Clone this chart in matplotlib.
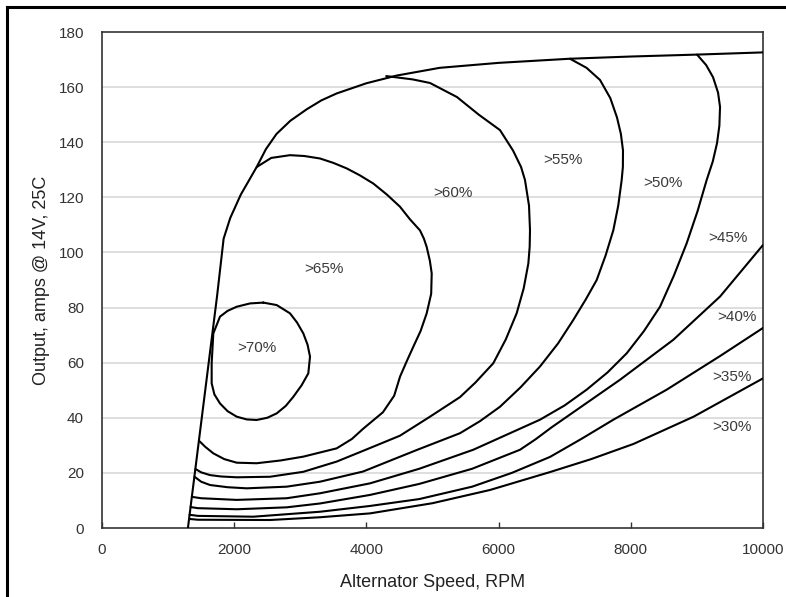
import matplotlib.pyplot as plt
from matplotlib.lines import Line2D

plt.rcParams['font.family'] = ['Liberation Sans', 'DejaVu Sans']

# maximum output line
rpm_max = [1300, 1520, 1740, 1840, 1940, 2100, 2340, 2480, 2640, 2850, 3100, 3320,
           3550, 4000, 4460, 5110, 6000, 7080, 8000, 9000, 10000]
amps_max = [0, 42, 84, 105, 112.5, 121, 131, 137.5, 143, 147.8, 152, 155.2,
            157.7, 161.4, 164.2, 167, 168.8, 170.3, 171.1, 171.8, 172.6]

# efficiency contours
rpm_70 = [2441, 2240, 2038, 1900, 1785, 1684, 1659, 1659, 1700, 1785, 1900, 2038,
          2190, 2340, 2500, 2643, 2780, 2894, 3020, 3121, 3147, 3110, 3046, 2950,
          2844, 2643, 2441]
amps_70 = [81.8, 81.5, 80.3, 78.8, 76.7, 70.6, 59.8, 52.5, 48.5, 45.2, 42.4, 40.4,
           39.4, 39.2, 40.0, 41.6, 44.3, 47.6, 51.8, 56.1, 62.2, 66.5, 70.6, 74.6,
           77.9, 80.9, 81.8]

rpm_65 = [1475, 1560, 1684, 1850, 2038, 2340, 2700, 3046, 3550, 3780, 3950, 4250, 4420,
          4510, 4610, 4710, 4820, 4912, 4980, 4988, 4960, 4912, 4870, 4811, 4660,
          4508, 4310, 4105, 3900, 3702, 3500, 3298, 3060, 2844, 2560, 2340]
amps_65 = [31.5, 29.5, 27.1, 25.0, 23.7, 23.5, 24.5, 25.9, 28.9, 32.3, 36, 42, 48,
           55, 60.5, 65.8, 71.5, 77.9, 85, 92.4, 97, 102, 105, 108, 112,
           116.6, 121, 125, 128, 130.5, 132.5, 134.1, 135, 135.3, 134.3, 131]

rpm_60 = [1415, 1500, 1634, 1800, 2038, 2542, 3046, 3550, 3950, 4508, 4962, 5416,
          5650, 5920, 6110, 6273, 6380, 6450, 6470, 6475, 6460, 6399, 6340, 6218, 6021,
          5700, 5370, 4962, 4700, 4300]
amps_60 = [21.4, 20.2, 19.2, 18.7, 18.4, 18.6, 20.4, 24.1, 28, 33.5, 40.4, 47.5,
           52.8, 59.8, 68.5, 77.9, 87, 96, 102, 108.1, 117, 126.3, 131, 137, 144.4,
           150, 156.4, 161.5, 162.8, 164]

rpm_55 = [1400, 1500, 1634, 1900, 2189, 2794, 3298, 3950, 4761, 5416, 5720, 6021, 6330,
          6626, 6900, 7130, 7320, 7484, 7620, 7736, 7810, 7862, 7880, 7882, 7850,
          7791, 7690, 7534, 7330, 7080]
amps_55 = [18.6, 16.8, 15.6, 14.8, 14.4, 15, 16.8, 20.5, 28.3, 34.4, 38.8, 44, 51,
           58.6, 67, 75.5, 83, 90, 99, 108.1, 117, 126.3, 131, 137, 143,
           149, 156, 162.6, 167, 170.3]

rpm_50 = [1360, 1500, 2038, 2794, 3298, 4054, 4800, 5617, 6626, 7000, 7332, 7650,
          7938, 8200, 8442, 8650, 8845, 9010, 9148, 9240, 9304, 9340, 9350, 9320,
          9244, 9140, 9002]
amps_50 = [11.3, 10.8, 10.2, 10.8, 12.6, 16.2, 21.5, 28.4, 39.3, 44.5, 50.2, 56.5,
           63.4, 71.5, 80.3, 91.5, 103.3, 115, 126.3, 133, 139.6, 146, 152.8, 158,
           163.6, 168, 171.8]

rpm_45 = [1340, 1450, 2038, 2794, 3298, 4054, 4800, 5600, 6324, 6560, 6800, 7837, 8643,
          9350, 10000]
amps_45 = [7.6, 7.2, 6.8, 7.5, 8.9, 12, 16, 21.5, 28.4, 32.2, 36.5, 53.8, 68.3,
           84, 102.7]

rpm_40 = [1325, 1450, 2289, 3298, 4054, 4800, 5600, 6200, 6778, 7250, 7736, 8543,
          9350, 10000]
amps_40 = [4.8, 4.4, 4.1, 5.9, 8, 10.5, 15, 20, 25.8, 32.3, 39.3, 50.2,
           62.4, 72.6]

rpm_35 = [1318, 1450, 2542, 3298, 4054, 5000, 5870, 6778, 7400, 8040, 8950, 10000]
amps_35 = [3.3, 3.0, 2.9, 3.9, 5.3, 9, 13.8, 20.3, 25, 30.5, 40.4, 54.3]

label_text = ['>70%', '>65%', '>60%', '>55%', '>50%', '>45%', '>40%', '>35%', '>30%']
label_rpm = [2340, 3360, 5315, 6979, 8492, 9476, 9601, 9526, 9526]
label_amps = [65.2, 94, 121.4, 133.5, 125.3, 105.1, 76.7, 54.9, 36.8]

x_ticks = [0, 2000, 4000, 6000, 8000, 10000]
y_ticks = [0, 20, 40, 60, 80, 100, 120, 140, 160, 180]

fig = plt.figure(figsize=(7.86, 5.97), dpi=100)
ax = fig.add_axes([102 / 786, 69 / 597, 661 / 786, 496 / 597])

for yv in y_ticks[1:-1]:
    ax.axhline(yv, color='#d4d4d4', linewidth=1.1, zorder=1)

curves = [(rpm_max, amps_max), (rpm_70, amps_70), (rpm_65, amps_65), (rpm_60, amps_60),
          (rpm_55, amps_55), (rpm_50, amps_50), (rpm_45, amps_45), (rpm_40, amps_40),
          (rpm_35, amps_35)]
for xs, ys in curves:
    ax.plot(xs, ys, color='black', linewidth=1.5, zorder=3,
            solid_joinstyle='round', solid_capstyle='round')

for t, xv, yv in zip(label_text, label_rpm, label_amps):
    ax.text(xv, yv, t, ha='center', va='center', fontsize=11, color='#3a3a3a', zorder=4)

ax.set_xlim(0, 10000)
ax.set_ylim(0, 180)
ax.set_xticks(x_ticks)
ax.set_yticks(y_ticks)
ax.tick_params(axis='x', direction='in', length=4, width=1, color='#333333',
               labelsize=11, labelcolor='#333333', pad=11)
ax.tick_params(axis='y', length=0, labelsize=11, labelcolor='#333333', pad=13)
for s in ax.spines.values():
    s.set_linewidth(1.2)
    s.set_color('#333333')

ax.set_xlabel('Alternator Speed, RPM', fontsize=13, color='#222222')
ax.set_ylabel('Output, amps @ 14V, 25C', fontsize=13, color='#222222')
ax.xaxis.set_label_coords(0.5, -0.109)
ax.xaxis.label.set_va('center')
ax.yaxis.set_label_coords(-0.0908, 0.5)
ax.yaxis.label.set_va('center')

# frame of the original picture (cut at right and bottom)
fig.add_artist(Line2D([7 / 786, 7 / 786], [0, 1 - 7 / 597], color='black', linewidth=2.2))
fig.add_artist(Line2D([7 / 786, 1], [1 - 7 / 597, 1 - 7 / 597], color='black', linewidth=2.2))

fig.savefig('out.png', dpi=100)
